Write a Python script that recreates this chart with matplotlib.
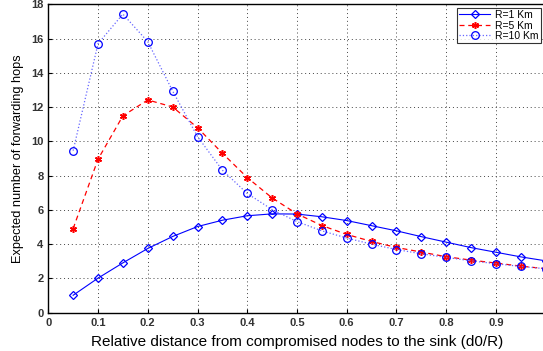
import matplotlib
matplotlib.use("Agg")
import matplotlib.pyplot as plt
import numpy as np

x = [0.05, 0.10, 0.15, 0.20, 0.25, 0.30, 0.35, 0.40, 0.45, 0.50,
     0.55, 0.60, 0.65, 0.70, 0.75, 0.80, 0.85, 0.90, 0.95, 1.00]
r1 = [1.02, 2.02, 2.91, 3.75, 4.45, 5.03, 5.40, 5.66, 5.77, 5.76,
      5.60, 5.38, 5.08, 4.78, 4.44, 4.12, 3.80, 3.53, 3.26, 3.03]
r5 = [4.91, 8.96, 11.49, 12.42, 12.01, 10.80, 9.31, 7.89, 6.70, 5.77,
      5.09, 4.57, 4.16, 3.81, 3.54, 3.27, 3.07, 2.90, 2.72, 2.57]
r10 = [9.46, 15.70, 17.43, 15.82, 12.94, 10.28, 8.32, 6.96, 6.02, 5.32,
       4.78, 4.36, 4.00, 3.69, 3.44, 3.23, 3.03, 2.86, 2.70, 2.57]
labels = ["R=1 Km", "R=5 Km", "R=10 Km"]
xticks = [0, 0.1, 0.2, 0.3, 0.4, 0.5, 0.6, 0.7, 0.8, 0.9, 1.0]
xticklabels = ["0", "0.1", "0.2", "0.3", "0.4", "0.5", "0.6", "0.7", "0.8", "0.9", "1"]
yticks = [0, 2, 4, 6, 8, 10, 12, 14, 16, 18]

plt.rcParams['font.family'] = ['Liberation Sans', 'DejaVu Sans']
fig = plt.figure(figsize=(5.43, 3.51), dpi=100)
ax = fig.add_axes([0.0889, 0.109, 1.005 - 0.0889, 0.9877 - 0.109])

ax.plot(x, r1, '-', color='#0000ff', lw=0.8, marker='D', ms=4.2,
        mfc='none', mec='#0000ff', mew=0.9, label=labels[0])
ax.plot(x, r5, '--', color='#ff0000', lw=0.9, marker=(6, 2, 0), ms=5.0,
        mfc='#ff0000', mec='#ff0000', mew=1.1, label=labels[1], dashes=(4, 3))
ax.plot(x, r10, ':', color='#6666ff', lw=0.9, marker='o', ms=5.5,
        mfc='none', mec='#0000ff', mew=0.9, label=labels[2])

ax.set_xlim(0, 1)
ax.set_ylim(0, 18)
ax.set_xticks(xticks)
ax.set_xticklabels(xticklabels)
ax.set_yticks(yticks)
ax.tick_params(direction='in', labelsize=8, length=3, colors='black', labelcolor='#333333')
for t in ax.get_xticklabels() + ax.get_yticklabels():
    t.set_fontweight('bold')
ax.grid(True, linestyle=(0, (1, 3)), color='#444444', lw=0.7)
for s in ax.spines.values():
    s.set_linewidth(1.0)

ax.set_xlabel("Relative distance from compromised nodes to the sink (d0/R)", fontsize=11, labelpad=5)
ax.set_ylabel("Expected number of forwarding hops", fontsize=9.2, labelpad=5)

leg = ax.legend(loc='upper right', bbox_to_anchor=(0.9905, 0.988), fontsize=7.5, frameon=True,
                fancybox=False, edgecolor='black', borderpad=0.2, labelspacing=0.05,
                handlelength=3.0, handletextpad=0.5, borderaxespad=0.0)
leg.get_frame().set_linewidth(0.8)

fig.savefig("out.png", dpi=100)
